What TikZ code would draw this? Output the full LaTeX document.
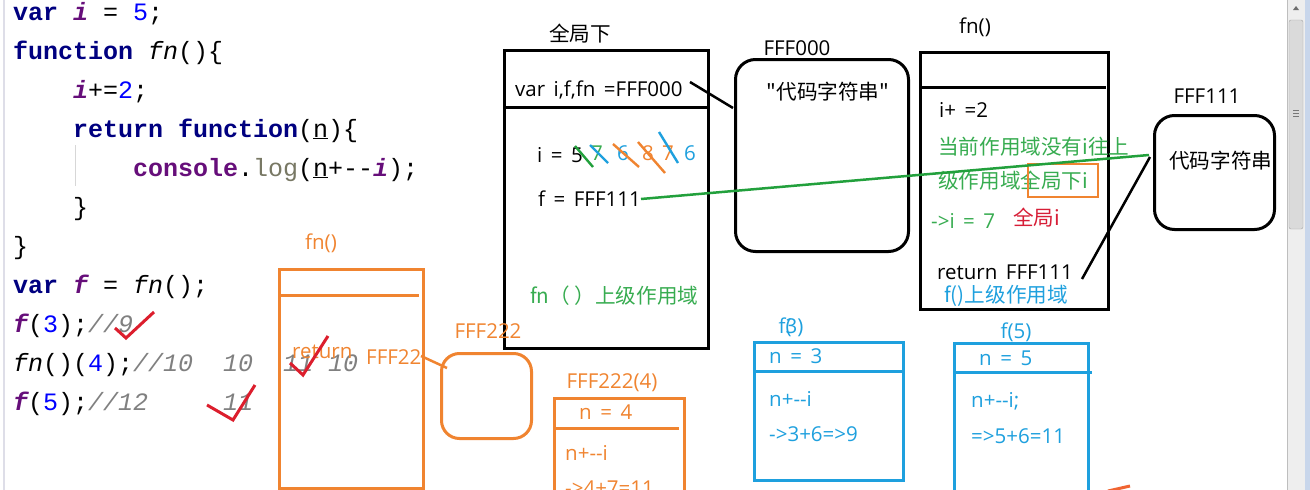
\documentclass[tikz,border=0pt]{standalone}
\usepackage{fontspec}
\newfontfamily\codefont{Liberation Mono}
\newfontfamily\cjk{Noto Sans CJK SC}
\newfontfamily\latf[WordSpace=1.6]{Open Sans}
\definecolor{orng}{RGB}{240,132,48}
\definecolor{bl}{RGB}{30,160,222}
\definecolor{grn}{RGB}{55,172,80}
\definecolor{grnline}{RGB}{34,160,60}
\definecolor{redtxt}{RGB}{215,30,55}
\definecolor{chk}{RGB}{220,30,45}
\definecolor{kw}{RGB}{0,0,128}
\definecolor{purp}{RGB}{102,14,122}
\definecolor{numc}{RGB}{0,0,255}
\definecolor{cmt}{RGB}{128,128,128}
\definecolor{logc}{RGB}{120,120,100}
\definecolor{sbtrack}{RGB}{238,238,238}
\definecolor{sbthumb}{RGB}{218,218,218}
\definecolor{sbedge}{RGB}{200,214,235}
\newcommand\jkw[1]{{\bfseries\color{kw}#1}}
\newcommand\jpv[1]{{\bfseries\itshape\color{purp}#1}}
\newcommand\jnum[1]{{\color{numc}#1}}
\newcommand\jcmt[1]{{\itshape\color{cmt}#1}}
\newcommand\jlog[1]{{\color{logc}#1}}
\tikzset{
  code/.style={font=\codefont\fontsize{25}{28}\selectfont, inner sep=0pt, anchor=base west},
  dtxt/.style={font=\cjk\fontsize{20.6}{24}\selectfont, inner sep=0pt},
  ltxt/.style={font=\latf\fontsize{20.5}{24}\selectfont, inner sep=0pt},
  bbox/.style={draw=black, line width=3pt, inner sep=0pt, anchor=north west},
  obox/.style={draw=orng, line width=3pt, inner sep=0pt, anchor=north west},
  ubox/.style={draw=bl, line width=3pt, inner sep=0pt, anchor=north west},
  sepline/.style={line width=3pt},
  slash/.style={line width=2.4pt},
  check/.style={draw=chk, line width=3pt, line join=miter},
}
\begin{document}
\begin{tikzpicture}[x=1pt,y=-1pt]
\useasboundingbox (0,0) rectangle (1310,490);
\fill[white] (0,0) rectangle (1310,490);
% editor gutter and indent guide
\draw[line width=2pt, color={rgb,255:red,222;green,222;blue,232}] (4,0) -- (4,490);
\draw[line width=1pt, color={rgb,255:red,215;green,215;blue,215}] (75,145) -- (75,186);
% ---------- code ----------
\node[code] (c1) at (13,20) {\jkw{var} \jpv{i} = \jnum{5};};
\node[code] (c2) at (13,59) {\jkw{function} \textit{fn}()\{};
\node[code] (c3) at (73,98) {\jpv{i}+=\jnum{2};};
\node[code] (c4) at (73,137) {\jkw{return} \jkw{function}(\underline{n})\{};
\node[code] (c5) at (133,176) {{\bfseries\color{purp}console}.\jlog{log}(\underline{n}+-{}-\jpv{i});};
\node[code] (c6) at (73,215) {\}};
\node[code] (c7) at (13,254) {\}};
\node[code] (c8) at (13,293) {\jkw{var} \jpv{f} = \textit{fn}();};
\node[code] (c9) at (13,332) {\jpv{f}(\jnum{3});\jcmt{//9}};
\node[code] (c10) at (13,371) {\textit{fn}()(\jnum{4});\jcmt{//10~~10~~11~10}};
\node[code] (c11) at (13,410) {\jpv{f}(\jnum{5});\jcmt{//12~~~~~11}};
% ---------- global box ----------
\node[bbox, minimum width=204pt, minimum height=298pt] (glob) at (503,49) {};
\draw[sepline] (506,107) -- (707,107);
\node[dtxt] (globt) at (580,34) {全局下};
\node[ltxt, anchor=west] (vardecl) at (515,90) {var i,f,fn =FFF000};
\node[ltxt, anchor=west] (ival) at (537,155) {i = 5};
\node[ltxt, anchor=west, text=grn] (i7) at (591,153) {7};
\node[ltxt, anchor=west, text=bl] (i6a) at (617,153) {6};
\node[ltxt, anchor=west, text=orng] (i8) at (642,153) {8};
\node[ltxt, anchor=west, text=orng] (i7b) at (662,153) {7};
\node[ltxt, anchor=west, text=bl] (i6b) at (684,153) {6};
\draw[slash, grnline] (575,146) -- (593,167);
\draw[slash, bl] (590,145) -- (608,163);
\draw[slash, orng] (613,144) -- (639,167);
\draw[slash, orng] (638,142) -- (665,173);
\draw[slash, bl] (659,132) -- (678,163);
\node[ltxt, anchor=west] (fval) at (538,199) {f = FFF111};
\node[dtxt, anchor=west, text=grn] (fnscope) at (530,296) {fn（ ）上级作用域};
% ---------- FFF000 ----------
\node[bbox, rounded corners=20pt, minimum width=173pt, minimum height=192pt] (f000) at (734,58) {};
\node[ltxt] (f000t) at (797,48) {FFF000};
\node[dtxt] (f000c) at (828,92) {"代码字符串"};
\coordinate (v1) at (690,82);
\coordinate (v2) at (733,108);
\draw[line width=2.5pt] (v1) -- (v2);
% ---------- fn() black box ----------
\node[bbox, minimum width=188pt, minimum height=257pt] (fnbox) at (919,51) {};
\draw[sepline] (922,87) -- (1106,87);
\node[ltxt] (fnt) at (975,27) {fn()};
\node[ltxt, anchor=west] (ipl) at (939,110) {i+ =2};
\node[dtxt, anchor=west, text=grn] (cur1) at (938,147) {当前作用域没有i往上};
\node[dtxt, anchor=west, text=grn] (cur2) at (938,181) {级作用域全局下i};
\draw[orng, line width=2.5pt] (1028,164) rectangle (1098,197);
\node[ltxt, anchor=west, text=grn] (i7r) at (931,221) {->i = 7};
\node[dtxt, anchor=west, text=redtxt] (glbi) at (1013,218) {全局i};
\node[ltxt, anchor=west] (ret) at (937,272) {return FFF111};
\node[dtxt, anchor=west, text=bl] (fscope) at (944,296) {f()上级作用域};
% ---------- FFF111 ----------
\node[bbox, rounded corners=20pt, minimum width=120pt, minimum height=114pt] (f111) at (1153,114) {};
\node[ltxt] (f111t) at (1207,96) {FFF111};
\node[dtxt, anchor=west] (f111c) at (1169,161) {代码字符串};
\coordinate (g2) at (1149,155);
\coordinate (r2) at (1150,157);
\coordinate (r1) at (1082,279);
\draw[grnline, line width=2.5pt] (fval.east) -- (g2);
\draw[line width=2.5pt] (r1) -- (r2);
% ---------- orange fn() ----------
\node[obox, minimum width=144pt, minimum height=219pt] (ofn) at (278,268) {};
\draw[orng, sepline] (281,295) -- (419,295);
\node[ltxt, text=orng] (ofnt) at (321,243) {fn()};
\node[ltxt, anchor=west, text=orng] (oret) at (292,352) {return};
\node[ltxt, anchor=west, text=orng] (of22) at (366,357) {FFF22};
% ---------- FFF222 ----------
\node[obox, rounded corners=18pt, minimum width=90pt, minimum height=85pt] (f222) at (440,352) {};
\node[ltxt, text=orng] (f222t) at (488,331) {FFF222};
\coordinate (o1) at (421,356);
\coordinate (o2) at (447,368);
\draw[orng, line width=2.5pt] (o1) -- (o2);
% ---------- FFF222(4) ----------
\node[obox, minimum width=130pt, minimum height=100pt] (f2224) at (553,397) {};
\draw[orng, sepline] (553,428) -- (679,428);
\node[ltxt, text=orng] (f2224t) at (612,383) {FFF222(4)};
\node[ltxt, anchor=west, text=orng] (n4) at (579,412) {n = 4};
\node[ltxt, anchor=west, text=orng] (n4a) at (565,453) {n+-{}-i};
\node[ltxt, anchor=west, text=orng] (n4b) at (565,488) {->4+7=11};
% ---------- f(3) ----------
\node[ubox, minimum width=149pt, minimum height=138pt] (f3) at (753,341) {};
\draw[bl, sepline] (753,371) -- (902,371);
\node[ltxt, text=bl] (f3t) at (791,327) {f(\kern-0.3em3)};
\node[ltxt, anchor=west, text=bl] (n3) at (769,356) {n = 3};
\node[ltxt, anchor=west, text=bl] (n3a) at (769,399) {n+-{}-i};
\node[ltxt, anchor=west, text=bl] (n3b) at (769,434) {->3+6=>9};
% ---------- f(5) ----------
\node[ubox, minimum width=134pt, minimum height=160pt] (f5) at (953,342) {};
\draw[bl, sepline] (953,372) -- (1092,372);
\node[ltxt, text=bl] (f5t) at (1016,332) {f(5)};
\node[ltxt, anchor=west, text=bl] (n5) at (979,358) {n = 5};
\node[ltxt, anchor=west, text=bl] (n5a) at (971,401) {n+-{}-i;};
\node[ltxt, anchor=west, text=bl] (n5b) at (971,436) {=>5+6=11};
% stray mark
\draw[color={rgb,255:red,240;green,100;blue,50}, line width=3pt] (1108,491) -- (1130,486);
% ---------- check marks ----------
\draw[check] (115,328) -- (126,338) -- (154,312);
\draw[check] (290,363) -- (303,375) -- (328,336);
\draw[check] (207,405) -- (233,420) -- (255,385);
% ---------- scrollbar ----------
\fill[sbtrack] (1287,0) rectangle (1305,490);
\fill[sbedge] (1305,0) rectangle (1310,490);
\draw[color={rgb,255:red,190;green,190;blue,190}] (1287,0) -- (1287,490);
\draw[fill=sbthumb, draw={rgb,255:red,165;green,165;blue,165}, rounded corners=2pt] (1289,20) rectangle (1303,229);
\foreach \yy in {110,113,116} \draw[color={rgb,255:red,120;green,120;blue,120}] (1293,\yy) -- (1299,\yy);
\fill[color={rgb,255:red,110;green,110;blue,110}] (1293,10) -- (1299,10) -- (1296,6) -- cycle;
\end{tikzpicture}
\end{document}
